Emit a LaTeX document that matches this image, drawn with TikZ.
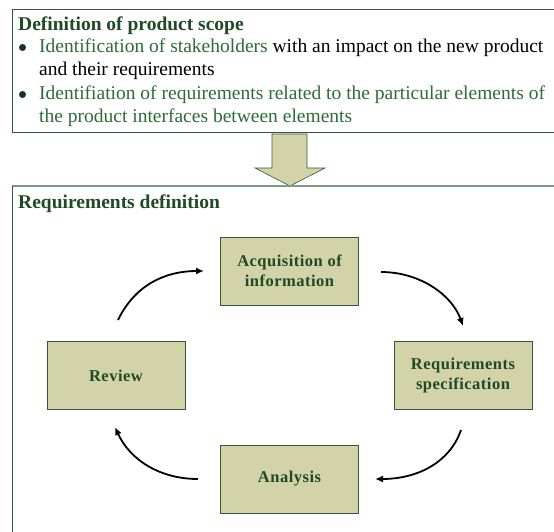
\documentclass[tikz,border=0pt]{standalone}
\usepackage{fontspec}
\setmainfont{Liberation Serif}
\newfontfamily\boxfont[LetterSpace=3]{Liberation Serif}
\usetikzlibrary{arrows.meta}
\definecolor{dkgreen}{HTML}{2C5B34}
\definecolor{txtgreen}{HTML}{1F4A25}
\definecolor{bulgreen}{HTML}{2E6B3A}
\definecolor{boxfill}{HTML}{D3D3AA}
\definecolor{graygreen}{HTML}{7F9A87}
\begin{document}
\begin{tikzpicture}[x=1pt,y=-1pt,
  frame/.style={draw=dkgreen,line width=1pt},
  stepbox/.style={draw=dkgreen,fill=boxfill,line width=0.8pt,minimum width=138pt,minimum height=68pt,
    font=\boxfont\fontsize{16.5}{19.5}\selectfont\bfseries,text=txtgreen,align=center,inner sep=0pt},
  title/.style={anchor=base west,font=\fontsize{19.5}{22}\selectfont\bfseries,text=txtgreen,inner sep=0pt},
  txt/.style={anchor=base west,font=\fontsize{19.5}{22}\selectfont,inner sep=0pt},
  bul/.style={circle,fill=txtgreen!70!black,inner sep=0pt,minimum size=7pt},
  cyc/.style={line width=1.8pt,-{Latex[length=8pt,width=7pt]}}
]
\useasboundingbox (0,0) rectangle (554,532);
% top frame
\draw[frame] (560,10) -- (12,10) -- (12,133) -- (560,133);
\node[title] (t1) at (18,31) {Definition of product scope};
\node[bul] (b1) at (22.5,47.5) {};
\node[txt] (l1) at (39,53) {\textcolor{bulgreen}{Identification of stakeholders} with an impact on the new product};
\node[txt] (l2) at (39,76) {and their requirements};
\node[bul] (b2) at (22.5,94.5) {};
\node[txt,text=bulgreen] (l3) at (39,100) {Identifiation of requirements related to the particular elements of};
\node[txt,text=bulgreen] (l4) at (39,123) {the product interfaces between elements};
% down arrow
\draw[draw=dkgreen,fill=boxfill,line width=0.6pt] (272,134) -- (307,134) -- (307,168) -- (325,168) -- (290,186) -- (255,168) -- (272,168) -- cycle;
% bottom frame
\draw[graygreen,line width=1.6pt] (12,186) -- (560,186);
\draw[frame] (12,186) -- (12,540);
\node[title] (t2) at (18,208) {Requirements definition};
% boxes
\node[stepbox] (acq) at (289.5,271) {Acquisition of\\information};
\node[stepbox] (rev) at (116,375.5) {Review};
\node[stepbox] (spec) at (463,375.5) {Requirements\\specification};
\node[stepbox] (ana) at (289.5,479) {Analysis};
% cycle arrows
\coordinate (r1) at (118,320);
\coordinate (a1) at (204,271);
\coordinate (a2) at (381,272);
\coordinate (s1) at (463,326);
\coordinate (s2) at (461,430);
\coordinate (n1) at (375,479);
\coordinate (n2) at (198,479);
\coordinate (v1) at (115,427);
\draw[cyc] (r1) .. controls (135,285) and (165,271) .. (a1);
\draw[cyc] (a2) .. controls (420,272) and (452,295) .. (s1);
\draw[cyc] (s2) .. controls (450,462) and (418,479) .. (n1);
\draw[cyc] (n2) .. controls (160,479) and (130,460) .. (v1);
\end{tikzpicture}
\end{document}
